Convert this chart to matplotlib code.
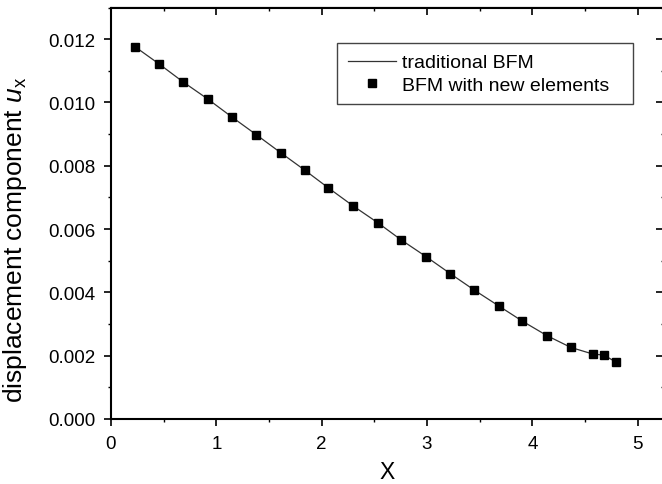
import matplotlib.pyplot as plt
import numpy as np

plt.rcParams['font.family'] = ['Liberation Sans', 'DejaVu Sans']
plt.rcParams['mathtext.fontset'] = 'custom'
plt.rcParams['mathtext.rm'] = 'Liberation Sans'
plt.rcParams['mathtext.it'] = 'Liberation Sans:italic'

# data
x_pts = [0.228, 0.459, 0.684, 0.918, 1.152, 1.380, 1.612, 1.840, 2.064, 2.295,
         2.533, 2.754, 2.991, 3.222, 3.450, 3.682, 3.906, 4.141, 4.366, 4.577,
         4.679, 4.793]
y_pts = [0.01176, 0.01121, 0.01065, 0.01011, 0.00953, 0.00898, 0.00841, 0.00786,
         0.00730, 0.00674, 0.00620, 0.00566, 0.00513, 0.00459, 0.00407, 0.00357,
         0.00309, 0.00263, 0.00226, 0.00205, 0.00202, 0.00180]
x_line = x_pts
y_line = y_pts

fig = plt.figure(figsize=(6.62, 4.85), dpi=100)
ax = fig.add_axes([111/662, 65/485, 553/662, (420-8.5)/485])

ax.plot(x_line, y_line, '-', color='#333333', lw=0.9, label='traditional BFM')
ax.plot(x_pts, y_pts, 's', color='black', ms=5.6, label='BFM with new elements')

ax.set_xlim(0, 5.25)
ax.set_ylim(0, 0.013)
ax.set_xticks(np.arange(0, 6, 1))
ax.set_xticks(np.arange(0, 5.3, 0.5), minor=True)
ax.set_yticks(np.arange(0, 0.0121, 0.002))
ax.set_yticks(np.arange(0, 0.0131, 0.001), minor=True)
ax.yaxis.set_major_formatter(plt.FormatStrFormatter('%.3f'))
ax.tick_params(which='major', direction='out', length=5.2, width=1.2, labelsize=13.5)
ax.tick_params(which='minor', direction='out', length=2.5, width=1.0)
ax.tick_params(axis='x', which='major', pad=6)
ax.tick_params(axis='y', which='major', pad=6)
for s in ax.spines.values():
    s.set_linewidth(1.5)

# mirrored ticks on top and right, pointing inward
axt = ax.secondary_xaxis('top')
axt.set_xticks(np.arange(0, 6, 1))
axt.set_xticks(np.arange(0, 5.3, 0.5), minor=True)
axt.tick_params(which='major', direction='in', length=6, width=1.2, labeltop=False)
axt.tick_params(which='minor', direction='in', length=3, width=1.0)
axr = ax.secondary_yaxis('right')
axr.set_yticks(np.arange(0, 0.0121, 0.002))
axr.set_yticks(np.arange(0, 0.0131, 0.001), minor=True)
axr.tick_params(which='major', direction='in', length=6, width=1.2, labelright=False)
axr.tick_params(which='minor', direction='in', length=2.5, width=1.0)

ax.set_xlabel('X', fontsize=16.5, labelpad=6)
ax.set_ylabel('displacement component $u_{\\mathrm{x}}$', fontsize=19)
ax.yaxis.set_label_coords(-0.148, 0.437)

leg_top = 376 / 411.5
ax.legend(loc='upper left', bbox_to_anchor=(226/553, leg_top - 0.1, 296/553, 0.1),
          mode='expand', fontsize=14, frameon=True, fancybox=False,
          edgecolor='#444444', framealpha=1, borderaxespad=0,
          handlelength=2.5, borderpad=0.55, labelspacing=0.25, handletextpad=0.3)

plt.savefig('out.png', dpi=100)
plt.close()
